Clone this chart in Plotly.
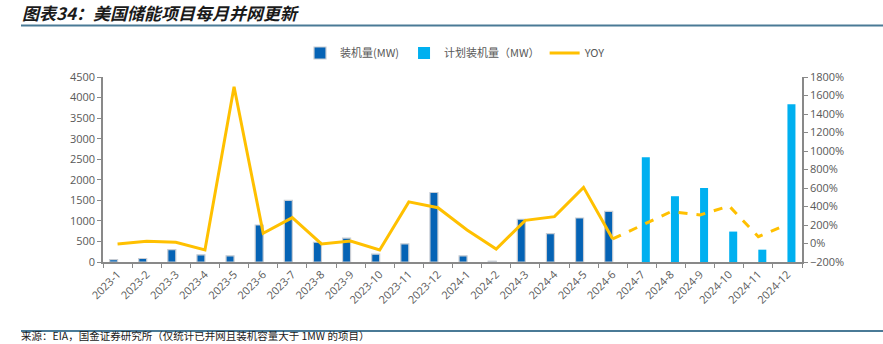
import plotly.graph_objects as go

categories = ["2023-1", "2023-2", "2023-3", "2023-4", "2023-5", "2023-6", "2023-7", "2023-8",
              "2023-9", "2023-10", "2023-11", "2023-12", "2024-1", "2024-2", "2024-3", "2024-4",
              "2024-5", "2024-6", "2024-7", "2024-8", "2024-9", "2024-10", "2024-11", "2024-12"]
installed = [60, 85, 300, 175, 150, 900, 1500, 480, 580, 190, 440, 1690, 150, 20, 1040, 690,
             1070, 1230, None, None, None, None, None, None]
planned = [None] * 18 + [2550, 1600, 1800, 740, 300, 3840]
yoy = [-5, 25, 13, -70, 1695, 110, 280, -5, 27, -70, 450, 387, 146, -60, 250, 290, 607, 49,
       200, 344, 308, 405, 74, 208]
split = 17  # last actual month (2024-6); dashed afterwards

L, R, T, B = 103, 802, 77, 262
W, H = 883, 344

def px(x):
    return (x - L) / (R - L)

def py(y):
    return (B - y) / (B - T)

fig = go.Figure()
fig.add_trace(go.Bar(x=categories, y=installed, name="装机量(MW)",
                     marker=dict(color="#0563B5", line=dict(color="#C8CDD4", width=1.2))))
fig.add_trace(go.Bar(x=categories, y=planned, name="计划装机量（MW）",
                     marker=dict(color="#00B0F0", line=dict(width=0))))
fig.add_trace(go.Scatter(x=categories[:split + 1], y=yoy[:split + 1], name="YOY", yaxis="y2",
                         mode="lines", line=dict(color="#FFC000", width=3)))
fig.add_trace(go.Scatter(x=categories[split:], y=yoy[split:], name="YOY", yaxis="y2",
                         mode="lines", showlegend=False,
                         line=dict(color="#FFC000", width=3, dash="dash")))

tickfont = dict(family="Open Sans, Noto Sans CJK SC", size=11, color="#595959")
fig.update_layout(
    width=W, height=H,
    margin=dict(l=L, r=W - R, t=T, b=H - B),
    paper_bgcolor="white", plot_bgcolor="white",
    barmode="group", bargap=0.45, bargroupgap=0,
    showlegend=True,
    legend=dict(orientation="h", x=px(300), y=py(53), xanchor="left", yanchor="middle",
                font=dict(family="Noto Sans CJK SC", size=11, color="#595959"),
                itemwidth=30, traceorder="normal"),
    xaxis=dict(type="category", tickangle=-45, tickfont=tickfont, showgrid=False,
               showline=True, linecolor="#898989", linewidth=1.5,
               ticks="outside", tickson="boundaries", ticklen=4, tickcolor="#898989"),
    yaxis=dict(range=[0, 4500], dtick=500, tickfont=tickfont, showgrid=False,
               showline=True, linecolor="#898989", linewidth=1.5,
               ticks="outside", ticklen=4, tickcolor="#898989", zeroline=False),
    yaxis2=dict(range=[-200, 1800], dtick=200, overlaying="y", side="right",
                ticksuffix="%", tickfont=tickfont, showgrid=False,
                showline=True, linecolor="#898989", linewidth=1.5,
                ticks="outside", ticklen=4, tickcolor="#898989", zeroline=False),
)

fig.add_annotation(text="<b><i>图表34：美国储能项目每月并网更新</i></b>",
                   xref="paper", yref="paper", x=px(20), y=py(12),
                   xanchor="left", yanchor="middle", showarrow=False,
                   font=dict(family="Noto Sans CJK SC", size=17, color="#1a1a1a"))
fig.add_annotation(text="来源：EIA，国金证券研究所（仅统计已并网且装机容量大于 1MW 的项目）",
                   xref="paper", yref="paper", x=px(20), y=py(344),
                   xanchor="left", yanchor="bottom", showarrow=False, borderpad=0,
                   font=dict(family="Noto Sans CJK SC", size=10.5, color="#1a1a1a"))
for yy in (25.5, 331):
    fig.add_shape(type="line", xref="paper", yref="paper",
                  x0=px(21), x1=px(883), y0=py(yy), y1=py(yy),
                  line=dict(color="#4A7A96", width=2))

fig.write_html("out.html")
